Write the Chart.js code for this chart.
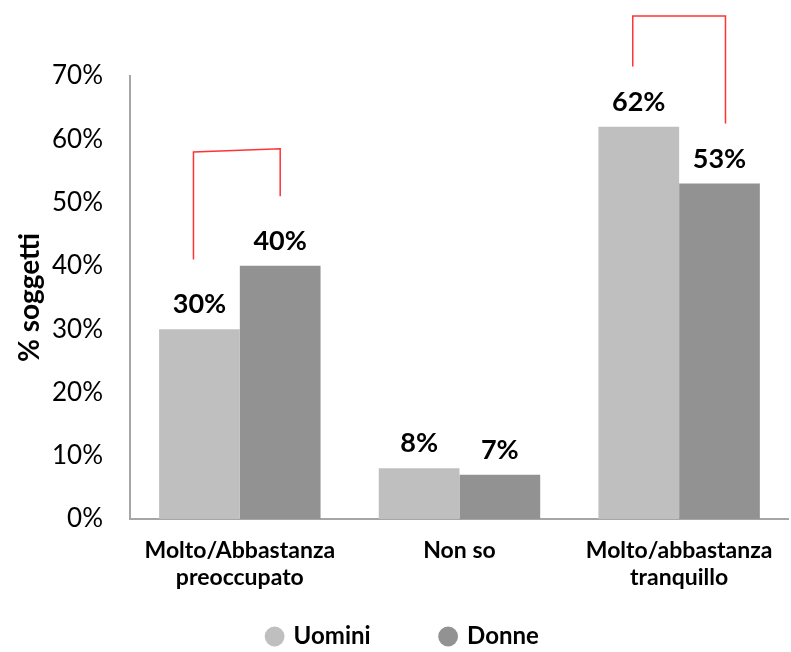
<!DOCTYPE html>
<html>
<head>
<meta charset="utf-8">
<script src="https://cdn.jsdelivr.net/npm/chart.js@4.4.1/dist/chart.umd.min.js"></script>
<style>
  html, body { margin: 0; padding: 0; background: #fff; }
  #wrap { width: 791px; height: 652px; }
</style>
</head>
<body>
<div id="wrap"><canvas id="chart" width="791" height="652"></canvas></div>
<script>
// dati
const categories = [['Molto/Abbastanza', 'preoccupato'], 'Non so', ['Molto/abbastanza', 'tranquillo']];
const uomini = [30, 8, 62];
const donne = [40, 7, 53];
const yTicks = [0, 10, 20, 30, 40, 50, 60, 70];

// parentesi rosse (differenze significative): categoria, estremi in %
const bracketCats = [0, 2];
const bracketLeftEnd = [41, 71.5];
const bracketRightEnd = [51, 62.5];
const bracketTopLeft = [58, 79.5];
const bracketTopRight = [58.5, 79.5];

const FONT = 'Lato, "DejaVu Sans", sans-serif';
const PAD_LEFT = 15.5;
const LEGEND_PAD = 70.5;

// etichette sopra le barre + parentesi
const labelsPlugin = {
    id: 'labelsPlugin',
    afterInit(chart) {
        // altezza fissa della legenda
        const fit = chart.legend.fit;
        chart.legend.fit = function () {
            fit.call(this);
            this.height = 58;
        };
    },
    afterLayout(chart) {
        // la legenda sta sotto le etichette, centrata a y=636
        chart.legend.top = 636 - 11.5 - LEGEND_PAD;
        chart.legend.bottom = 652;
    },
    afterDraw(chart) {
        const ctx = chart.ctx;
        const y = chart.scales.y;
        ctx.save();
        ctx.font = 'bold 27px ' + FONT;
        ctx.fillStyle = '#000';
        ctx.textAlign = 'center';
        ctx.textBaseline = 'alphabetic';
        chart.data.datasets.forEach((ds, i) => {
            chart.getDatasetMeta(i).data.forEach((bar, j) => {
                ctx.fillText(ds.data[j] + '%', bar.x, bar.y - 16);
            });
        });

        ctx.strokeStyle = 'rgba(255, 0, 0, 0.8)';
        ctx.lineWidth = 1.5;
        bracketCats.forEach((c, k) => {
            const xl = chart.getDatasetMeta(0).data[c].x - 6;
            const xr = chart.getDatasetMeta(1).data[c].x + (c === 2 ? 6 : 0);
            ctx.beginPath();
            ctx.moveTo(xl, y.getPixelForValue(bracketLeftEnd[k]));
            ctx.lineTo(xl, y.getPixelForValue(bracketTopLeft[k]));
            ctx.lineTo(xr, y.getPixelForValue(bracketTopRight[k]));
            ctx.lineTo(xr, y.getPixelForValue(bracketRightEnd[k]));
            ctx.stroke();
        });
        ctx.restore();
    }
};

new Chart(document.getElementById('chart').getContext('2d'), {
    type: 'bar',
    data: {
        labels: categories,
        datasets: [{
            label: 'Uomini',
            data: uomini,
            backgroundColor: '#bfbfbf',
            borderWidth: 0
        }, {
            label: 'Donne',
            data: donne,
            backgroundColor: '#929292',
            borderWidth: 0
        }]
    },
    options: {
        responsive: false,
        animation: false,
        layout: { padding: { top: 76, right: 0, left: PAD_LEFT, bottom: 0 } },
        datasets: {
            bar: { barPercentage: 1, categoryPercentage: 0.735 }
        },
        scales: {
            x: {
                afterFit: scale => { scale.height = 75; },
                grid: { display: false, drawTicks: false },
                border: { display: true, color: '#a6a6a6', width: 2 },
                ticks: {
                    color: '#000',
                    padding: 18.5,
                    maxRotation: 0,
                    font: { family: FONT, size: 23, weight: 'bold', lineHeight: 1.17 }
                }
            },
            y: {
                min: 0,
                max: 70,
                afterBuildTicks: scale => { scale.ticks = yTicks.map(v => ({ value: v })); },
                afterFit: scale => { scale.width = 130 - PAD_LEFT; },
                grid: { display: false, drawTicks: false },
                border: { display: true, color: '#a6a6a6', width: 2 },
                ticks: {
                    color: '#000',
                    padding: 27,
                    font: { family: FONT, size: 26 },
                    callback: v => v + '%'
                },
                title: {
                    display: true,
                    text: '% soggetti',
                    color: '#000',
                    padding: { top: -2.3, bottom: 0 },
                    font: { family: FONT, size: 28, weight: 'bold' }
                }
            }
        },
        plugins: {
            legend: {
                position: 'bottom',
                labels: {
                    usePointStyle: true,
                    pointStyle: 'circle',
                    boxWidth: 14,
                    boxHeight: 14,
                    padding: LEGEND_PAD,
                    color: '#000',
                    font: { family: FONT, size: 24, weight: 'bold' }
                }
            },
            tooltip: { enabled: false }
        }
    },
    plugins: [labelsPlugin]
});
</script>
</body>
</html>
